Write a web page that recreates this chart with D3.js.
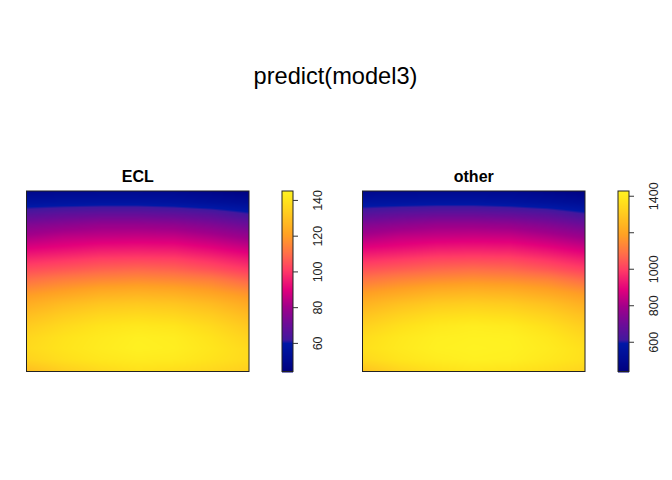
<!DOCTYPE html>
<html>
<head>
<meta charset="utf-8">
<script src="https://cdn.jsdelivr.net/npm/d3@7"></script>
<style>
  html, body { margin: 0; padding: 0; background: #fff; }
  svg { display: block; }
  text { font-family: "Liberation Sans", Arial, sans-serif; fill: #000; }
</style>
</head>
<body>
<div id="chart"></div>
<script>
// values, rows top to bottom, columns left to right
const eclValues = [
  [48, 49, 49.5, 49.5, 49, 47, 45],
  [56, 56.5, 57, 57, 56, 54, 52],
  [65, 67, 68, 68, 67, 65, 61],
  [74, 76, 78, 78, 77, 74, 70],
  [81, 84, 85, 85.5, 85, 82, 78],
  [89, 91, 93, 93.5, 93, 90, 86],
  [97, 99, 101, 101.5, 101, 98, 94],
  [104, 106, 108, 109, 108, 105, 101],
  [111, 114, 116, 117, 116, 114, 109],
  [118, 121, 124, 125, 124, 121, 117],
  [124, 128, 131, 132, 131, 128, 123],
  [129, 133, 136, 137, 136, 133, 128],
  [133, 137, 140, 141.5, 140.5, 137, 132],
  [136, 139.5, 142, 144, 143, 139.5, 135],
  [137, 140, 142.5, 144.5, 143.5, 140.5, 137],
  [135, 138.5, 141, 142.5, 142, 139.5, 137],
  [129, 134, 137, 139, 138, 136.5, 134]
];
const otherValues = [
  [480, 488, 492, 492, 488, 470, 450],
  [558, 562, 568, 568, 558, 540, 518],
  [645, 665, 675, 675, 665, 645, 605],
  [735, 755, 775, 775, 765, 735, 695],
  [805, 835, 845, 850, 845, 815, 775],
  [885, 905, 925, 930, 925, 895, 855],
  [965, 985, 1005, 1010, 1005, 975, 935],
  [1035, 1055, 1075, 1085, 1075, 1045, 1005],
  [1105, 1135, 1155, 1165, 1155, 1135, 1085],
  [1175, 1205, 1235, 1245, 1235, 1205, 1165],
  [1235, 1275, 1305, 1315, 1305, 1275, 1225],
  [1285, 1325, 1355, 1365, 1355, 1325, 1275],
  [1325, 1365, 1395, 1410, 1400, 1365, 1315],
  [1355, 1390, 1415, 1422, 1420, 1390, 1345],
  [1365, 1395, 1420, 1426, 1422, 1400, 1365],
  [1345, 1380, 1405, 1420, 1415, 1390, 1365],
  [1285, 1335, 1365, 1385, 1375, 1360, 1335]
];
const eclRange = [44, 145];
const otherRange = [437, 1426];
const eclTicks = [60, 80, 100, 120, 140];
const otherTicks = [600, 800, 1000, 1200, 1400];
const otherTickLabels = ["600", "800", "1000", "", "1400"];

// colour ramp, position 0-1 along the legend bar
const rampStops = [0, 0.06, 0.155, 0.175, 0.26, 0.36, 0.455, 0.56, 0.655, 0.755, 0.95, 1];
const rampColors = ["#00007e", "#000a90", "#0018a6", "#42189e", "#6c0c98", "#a2008a", "#e2007c",
  "#ff3a66", "#ff7048", "#ffa024", "#ffe41c", "#fff222"];

const width = 672;
const height = 480;

const svg = d3.select("#chart").append("svg")
  .attr("width", width)
  .attr("height", height)
  .attr("viewBox", `0 0 ${width} ${height}`);

svg.append("text")
  .attr("x", 335.5)
  .attr("y", 84)
  .attr("text-anchor", "middle")
  .style("font-size", "23.6px")
  .text("predict(model3)");

const ramp = d3.scaleLinear()
  .domain(rampStops)
  .range(rampColors)
  .interpolate(d3.interpolateRgb)
  .clamp(true);

// smooth the value grid into one picture per panel
function rasterUrl(values, x, y, color) {
  const [x0, x1] = x.range();
  const [y0, y1] = y.range();
  const w = Math.round(x1 - x0);
  const h = Math.round(y1 - y0);
  const canvas = document.createElement("canvas");
  canvas.width = w;
  canvas.height = h;
  const ctx = canvas.getContext("2d");
  const img = ctx.createImageData(w, h);
  const rows = values.length;
  const cols = values[0].length;
  for (let j = 0; j < h; j++) {
    const r = Math.min(y.invert(y0 + j + 0.5), rows - 1.001);
    const r0 = Math.floor(r);
    const fr = r - r0;
    for (let i = 0; i < w; i++) {
      const c = Math.min(x.invert(x0 + i + 0.5), cols - 1.001);
      const c0 = Math.floor(c);
      const fc = c - c0;
      const v = (values[r0][c0] * (1 - fc) + values[r0][c0 + 1] * fc) * (1 - fr)
        + (values[r0 + 1][c0] * (1 - fc) + values[r0 + 1][c0 + 1] * fc) * fr;
      const rgb = d3.rgb(color(v));
      const k = (j * w + i) * 4;
      img.data[k] = rgb.r;
      img.data[k + 1] = rgb.g;
      img.data[k + 2] = rgb.b;
      img.data[k + 3] = 255;
    }
  }
  ctx.putImageData(img, 0, 0);
  return canvas.toDataURL();
}

function drawPanel(title, values, range, ticks, labels, left) {
  const top = 191;
  const bottom = 371.5;
  const panelW = 222.5;
  const barX = left + 255.5;
  const barW = 11;

  const x = d3.scaleLinear().domain([0, values[0].length - 1]).range([left, left + panelW]);
  const y = d3.scaleLinear().domain([0, values.length - 1]).range([top, bottom]);
  const v = d3.scaleLinear().domain(range).range([bottom, top]);
  const color = d => ramp((d - range[0]) / (range[1] - range[0]));

  svg.append("image")
    .attr("x", left)
    .attr("y", top)
    .attr("width", panelW)
    .attr("height", bottom - top)
    .attr("preserveAspectRatio", "none")
    .attr("href", rasterUrl(values, x, y, color));

  svg.append("rect")
    .attr("x", left)
    .attr("y", top)
    .attr("width", panelW)
    .attr("height", bottom - top)
    .attr("fill", "none")
    .attr("stroke", "#222")
    .attr("stroke-width", 1);

  svg.append("text")
    .attr("x", left + panelW / 2)
    .attr("y", 182)
    .attr("text-anchor", "middle")
    .style("font-size", "16px")
    .style("font-weight", "bold")
    .text(title);

  // legend bar
  const steps = d3.range(0, 181);
  svg.append("g").selectAll("rect")
    .data(steps)
    .enter()
    .append("rect")
    .attr("x", barX)
    .attr("width", barW)
    .attr("y", d => top + d)
    .attr("height", 1.5)
    .attr("fill", d => color(v.invert(top + d + 0.5)));

  svg.append("rect")
    .attr("x", barX)
    .attr("y", top)
    .attr("width", barW)
    .attr("height", bottom - top)
    .attr("fill", "none")
    .attr("stroke", "#222")
    .attr("stroke-width", 1);

  const axis = d3.axisRight(v)
    .tickValues(ticks)
    .tickSize(5)
    .tickSizeOuter(0)
    .tickFormat((d, i) => labels[i]);

  const g = svg.append("g")
    .attr("transform", `translate(${barX + barW},0)`)
    .call(axis);
  g.select(".domain").remove();
  g.selectAll("line").attr("stroke", "#333");
  g.selectAll("text")
    .attr("x", 0)
    .attr("dy", 0)
    .attr("y", 0)
    .attr("text-anchor", "middle")
    .style("font-size", "12.5px")
    .style("fill", "#222")
    .attr("transform", "translate(29,0) rotate(-90)");
}

drawPanel("ECL", eclValues, eclRange, eclTicks, eclTicks.map(String), 26.5);
drawPanel("other", otherValues, otherRange, otherTicks, otherTickLabels, 362.5);
</script>
</body>
</html>
